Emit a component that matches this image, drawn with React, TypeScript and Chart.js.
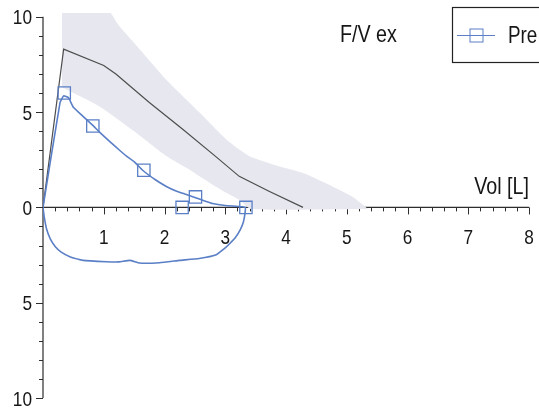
import { useEffect, useRef } from "react";
import { Chart, registerables } from "chart.js";

Chart.register(...registerables);

// Axis ticks
const volTickLabels = [1, 2, 3, 4, 5, 6, 7, 8];
const flowTickLabels = [10, 5, 0, -5, -10];

// Predicted expiratory curve
const predVol = [0, 0.34, 1.0, 1.2, 1.75, 2.3, 2.85, 3.23, 3.72, 4.28];
const predFlow = [0, 8.3, 7.45, 7.0, 5.5, 4.1, 2.65, 1.63, 0.85, 0];

// Predicted normal range (upper and lower edges)
const bandUpperVol = [0.31, 1.0, 1.26, 1.59, 2.03, 2.57, 3.02, 3.39, 3.89, 4.26, 4.7, 5.08, 5.35];
const bandUpperFlow = [10.6, 10.6, 9.5, 8.3, 6.7, 5.0, 3.56, 2.7, 2.15, 1.83, 1.2, 0.58, -0.08];
const bandLowerVol = [0.31, 0.93, 1.5, 2.03, 2.4, 2.74, 3.0, 3.23, 3.42, 5.35];
const bandLowerFlow = [6.3, 5.3, 4.0, 2.7, 2.0, 1.3, 0.8, 0.4, -0.08, -0.08];

// Measured loop "Pre" (expiration then inspiration)
const preVol = [
  0, 0.28, 0.34, 0.42, 0.5, 0.65, 0.82, 0.93, 1.1, 1.26, 1.37, 1.5, 1.64, 1.85, 2.03, 2.2, 2.36,
  2.5, 2.65, 2.79, 3.0, 3.23, 3.33,
  3.325, 3.3, 3.25, 3.17, 3.08, 3.0, 2.84, 2.57, 2.25, 1.92, 1.59, 1.43, 1.25, 1.04, 0.66, 0.45,
  0.3, 0.2, 0.12, 0.06, 0.02, 0,
];
const preFlow = [
  0, 5.5, 5.85, 5.75, 5.25, 4.8, 4.3, 3.95, 3.45, 3.0, 2.7, 2.4, 1.95, 1.45, 1.1, 0.85, 0.68,
  0.52, 0.35, 0.2, 0.1, 0.05, 0,
  -0.3, -0.75, -1.15, -1.57, -1.88, -2.12, -2.5, -2.68, -2.78, -2.9, -2.92, -2.78, -2.86, -2.85,
  -2.78, -2.6, -2.35, -2.05, -1.65, -1.15, -0.5, 0,
];

// Square markers on the measured loop
const markVol = [0.35, 0.82, 1.66, 2.29, 2.51, 3.34];
const markFlow = [6.0, 4.27, 1.95, 0, 0.55, 0];

const BLUE = "#5a7fc6";
const GRAY = "#4d4d4d";
const BAND = "#e7e7f0";
const AXIS = "#2e2e2e";
const FONT = '"Liberation Sans", Arial, sans-serif';

const pts = (xs: number[], ys: number[]) => xs.map((x, i) => ({ x, y: ys[i] }));

function drawText(
  ctx: CanvasRenderingContext2D,
  text: string,
  x: number,
  y: number,
  size: number,
  align: "left" | "right" | "center"
) {
  ctx.save();
  ctx.font = `${size}px ${FONT}`;
  ctx.fillStyle = "#161616";
  ctx.textBaseline = "alphabetic";
  ctx.textAlign = align;
  ctx.translate(x, y);
  ctx.scale(0.82, 1);
  ctx.fillText(text, 0, 0);
  ctx.restore();
}

const axesPlugin = {
  id: "flowVolumeAxes",
  beforeDatasetsDraw(chart: any) {
    const ctx: CanvasRenderingContext2D = chart.ctx;
    const xs = chart.scales.x;
    const ys = chart.scales.y;
    const x0 = xs.getPixelForValue(0);
    const y0 = ys.getPixelForValue(0);
    ctx.save();
    ctx.strokeStyle = AXIS;
    ctx.lineWidth = 1.2;
    ctx.beginPath();
    ctx.moveTo(x0, ys.getPixelForValue(10));
    ctx.lineTo(x0, ys.getPixelForValue(-10));
    ctx.moveTo(x0, y0);
    ctx.lineTo(xs.getPixelForValue(8), y0);
    ctx.stroke();
    ctx.lineWidth = 1;
    ctx.beginPath();
    for (let i = -10; i <= 10; i++) {
      const py = Math.round(ys.getPixelForValue(i)) + 0.5;
      const len = i % 5 === 0 ? 7 : 4;
      ctx.moveTo(x0, py);
      ctx.lineTo(x0 - len, py);
    }
    for (let i = 1; i <= 40; i++) {
      const px = Math.round(xs.getPixelForValue(i * 0.2)) + 0.5;
      const len = i % 5 === 0 ? 7 : 4;
      ctx.moveTo(px, y0);
      ctx.lineTo(px, y0 + len);
    }
    ctx.stroke();
    ctx.restore();
  },
  afterDraw(chart: any) {
    const ctx: CanvasRenderingContext2D = chart.ctx;
    const xs = chart.scales.x;
    const ys = chart.scales.y;
    const x0 = xs.getPixelForValue(0);
    const y0 = ys.getPixelForValue(0);
    volTickLabels.forEach((v) => {
      drawText(ctx, String(v), xs.getPixelForValue(v), y0 + 37, 21, "center");
    });
    flowTickLabels.forEach((v) => {
      drawText(ctx, String(Math.abs(v)), x0 - 11, ys.getPixelForValue(v) + 7.5, 21, "right");
    });
    drawText(ctx, "Vol [L]", xs.getPixelForValue(8), y0 - 13, 24, "right");
    drawText(ctx, "F/V ex", 340, 42, 24, "left");

    // legend
    ctx.save();
    ctx.strokeStyle = "#222";
    ctx.lineWidth = 1.2;
    ctx.strokeRect(452.5, 7.5, 120, 55);
    ctx.strokeStyle = BLUE;
    ctx.lineWidth = 1;
    ctx.beginPath();
    ctx.moveTo(457, 35.5);
    ctx.lineTo(495, 35.5);
    ctx.stroke();
    ctx.strokeRect(470, 29, 13, 13);
    ctx.restore();
    drawText(ctx, "Pre", 508, 43, 23, "left");
  },
};

export default function App() {
  const ref = useRef<HTMLCanvasElement | null>(null);

  useEffect(() => {
    document.body.style.margin = "0";
    const canvas = ref.current;
    if (!canvas) return;
    const chart = new Chart(canvas, {
      type: "scatter",
      data: {
        datasets: [
          {
            label: "Pre markers",
            data: pts(markVol, markFlow),
            showLine: false,
            pointStyle: "rect",
            pointRadius: 8.7,
            pointBorderWidth: 1.3,
            pointBorderColor: BLUE,
            pointBackgroundColor: "rgba(0,0,0,0)",
            order: 0,
            clip: false,
          } as any,
          {
            label: "Pre",
            data: pts(preVol, preFlow),
            showLine: true,
            borderColor: BLUE,
            borderWidth: 1.6,
            pointRadius: 0,
            tension: 0.12,
            fill: false,
            order: 1,
          },
          {
            label: "Pred",
            data: pts(predVol, predFlow),
            showLine: true,
            borderColor: GRAY,
            borderWidth: 1.2,
            pointRadius: 0,
            tension: 0,
            fill: false,
            order: 2,
          },
          {
            label: "Range upper",
            data: pts(bandUpperVol, bandUpperFlow),
            showLine: true,
            borderColor: "rgba(0,0,0,0)",
            borderWidth: 0,
            backgroundColor: BAND,
            pointRadius: 0,
            tension: 0.2,
            fill: 4,
            order: 3,
          },
          {
            label: "Range lower",
            data: pts(bandLowerVol, bandLowerFlow),
            showLine: true,
            borderColor: "rgba(0,0,0,0)",
            borderWidth: 0,
            pointRadius: 0,
            tension: 0.2,
            fill: false,
            order: 4,
          },
        ],
      },
      options: {
        animation: false,
        responsive: false,
        devicePixelRatio: 1,
        layout: { padding: { left: 43, right: 8, top: 13, bottom: 13 } },
        plugins: {
          legend: { display: false },
          tooltip: { enabled: false },
        },
        scales: {
          x: { type: "linear", min: 0, max: 8, display: false },
          y: { type: "linear", min: -10, max: 10.2, display: false },
        },
      },
      plugins: [axesPlugin],
    });
    return () => chart.destroy();
  }, []);

  return (
    <div style={{ position: "fixed", left: 0, top: 0, width: 539, height: 411, background: "#fff" }}>
      <canvas ref={ref} width={539} height={411} />
    </div>
  );
}
